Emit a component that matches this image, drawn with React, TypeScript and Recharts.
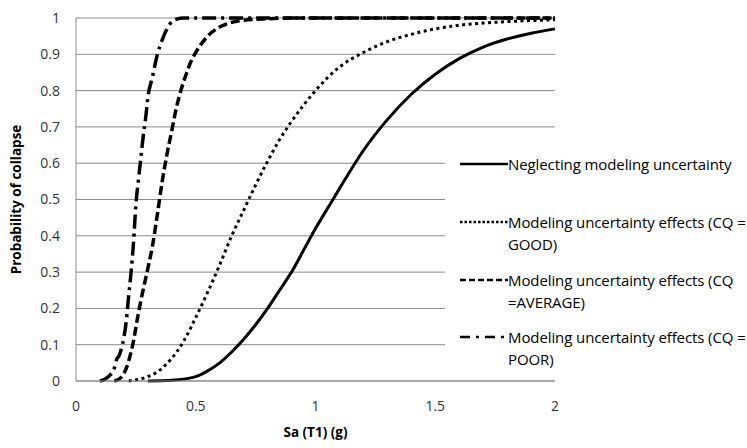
import { LineChart, Line, XAxis, YAxis, CartesianGrid } from "recharts";

// Sa(T1) in g, probability of collapse
const neglectX = [0.3, 0.4, 0.5, 0.55, 0.6, 0.65, 0.7, 0.75, 0.8, 0.85, 0.9, 0.95, 1.0, 1.05, 1.1, 1.2, 1.3, 1.4, 1.5, 1.6, 1.7, 1.8, 1.9, 2.0];
const neglectP = [0, 0.002, 0.012, 0.028, 0.05, 0.08, 0.115, 0.155, 0.2, 0.25, 0.3, 0.36, 0.42, 0.475, 0.53, 0.635, 0.72, 0.79, 0.845, 0.888, 0.92, 0.942, 0.958, 0.97];

const goodX = [0.22, 0.25, 0.3, 0.35, 0.4, 0.45, 0.5, 0.55, 0.6, 0.65, 0.7, 0.75, 0.8, 0.85, 0.9, 0.95, 1.0, 1.1, 1.2, 1.3, 1.4, 1.5, 1.6, 1.7, 1.8, 1.9, 2.0];
const goodP = [0, 0.003, 0.012, 0.03, 0.063, 0.11, 0.175, 0.245, 0.32, 0.4, 0.47, 0.54, 0.605, 0.665, 0.715, 0.76, 0.8, 0.865, 0.905, 0.935, 0.955, 0.97, 0.98, 0.986, 0.99, 0.993, 0.995];

const averageX = [0.16, 0.18, 0.2, 0.22, 0.24, 0.26, 0.28, 0.3, 0.32, 0.34, 0.36, 0.38, 0.4, 0.42, 0.44, 0.46, 0.48, 0.5, 0.55, 0.6, 0.65, 0.7, 0.8, 0.9, 1.0, 1.5, 2.0];
const averageP = [0, 0.005, 0.02, 0.055, 0.11, 0.185, 0.25, 0.31, 0.375, 0.46, 0.55, 0.625, 0.69, 0.755, 0.805, 0.845, 0.88, 0.905, 0.95, 0.975, 0.988, 0.994, 0.998, 1, 1, 1, 1];

const poorX = [0.1, 0.12, 0.14, 0.16, 0.17, 0.18, 0.19, 0.2, 0.21, 0.22, 0.23, 0.24, 0.25, 0.26, 0.27, 0.28, 0.29, 0.3, 0.32, 0.34, 0.36, 0.38, 0.4, 0.42, 0.45, 0.5, 1.0, 1.5, 2.0];
const poorP = [0, 0.005, 0.015, 0.035, 0.06, 0.07, 0.09, 0.12, 0.165, 0.235, 0.3, 0.38, 0.485, 0.55, 0.61, 0.67, 0.72, 0.78, 0.84, 0.9, 0.94, 0.97, 0.99, 0.997, 1, 1, 1, 1, 1];

const xTicks = [0, 0.5, 1, 1.5, 2];
const yTicks = [0, 0.1, 0.2, 0.3, 0.4, 0.5, 0.6, 0.7, 0.8, 0.9, 1];

const toRows = (xs: number[], ps: number[]) => xs.map((x, i) => ({ x, p: ps[i] }));

const series = [
  { name: "neglect", data: toRows(neglectX, neglectP), dash: undefined as string | undefined, width: 3 },
  { name: "good", data: toRows(goodX, goodP), dash: "3 3.5", width: 3 },
  { name: "average", data: toRows(averageX, averageP), dash: "9 4", width: 3.5 },
  { name: "poor", data: toRows(poorX, poorP), dash: "14 5 3 5", width: 3.5 },
];

const legendItems = [
  { lines: ["Neglecting modeling uncertainty"], dash: undefined as string | undefined, top: 24 },
  { lines: ["Modeling uncertainty effects (CQ =", "GOOD)"], dash: "2.5 2", top: 82 },
  { lines: ["Modeling uncertainty effects (CQ", "=AVERAGE)"], dash: "6 3", top: 140 },
  { lines: ["Modeling uncertainty effects (CQ =", "POOR)"], dash: "10 6 3 6", top: 197 },
];

const FONT = "'Open Sans', sans-serif";
const GRID = "#8c8c8c";

function YTitle(props: any) {
  const vb = props.viewBox;
  const x = vb.x + 17;
  const y = vb.y + vb.height / 2;
  return (
    <text x={x} y={y} transform={`rotate(-90, ${x}, ${y})`} textAnchor="middle" dominantBaseline="middle"
      fontFamily={FONT} fontSize={13.5} fontWeight="bold" fill="#000">
      Probability of collapse
    </text>
  );
}

function XTitle(props: any) {
  const vb = props.viewBox;
  return (
    <text x={vb.x + vb.width / 2} y={vb.y + 52} textAnchor="middle" dominantBaseline="middle"
      fontFamily={FONT} fontSize={13.5} fontWeight="bold" fill="#000">
      Sa (T1) (g)
    </text>
  );
}

export default function App() {
  return (
    <div style={{ position: "fixed", left: 0, top: 0, width: 747, height: 448, background: "#fff" }}>
      <LineChart width={747} height={448} margin={{ top: 18, right: 192, bottom: 0, left: 0 }}>
        <CartesianGrid vertical={false} stroke={GRID} />
        <XAxis
          type="number"
          dataKey="x"
          domain={[0, 2]}
          ticks={xTicks}
          height={67}
          tickLine={false}
          tickSize={0}
          tickMargin={20}
          axisLine={{ stroke: GRID }}
          tick={{ fill: "#333", fontSize: 14, fontFamily: FONT }}
          label={<XTitle />}
        />
        <YAxis
          type="number"
          domain={[0, 1]}
          ticks={yTicks}
          width={76}
          tickLine={false}
          tickSize={0}
          tickMargin={16}
          axisLine={{ stroke: GRID }}
          tick={{ fill: "#333", fontSize: 14, fontFamily: FONT }}
          label={<YTitle />}
        />
        {series.map((s) => (
          <Line
            key={s.name}
            data={s.data}
            dataKey="p"
            type="monotone"
            stroke="#000"
            strokeWidth={s.width}
            strokeDasharray={s.dash}
            dot={false}
            activeDot={false}
            isAnimationActive={false}
          />
        ))}
      </LineChart>

      {/* legend box sits over the right part of the plot, covering the grid */}
      <div style={{ position: "absolute", left: 445, top: 140, width: 302, height: 236, background: "#fff", fontFamily: FONT, fontSize: 15, letterSpacing: -0.1, color: "#000" }}>
        {legendItems.map((it, i) => (
          <div key={i} style={{ position: "absolute", left: 15, top: it.top - 11, display: "flex", alignItems: "flex-start" }}>
            <svg width={48} height={22} style={{ flex: "none" }}>
              <line x1={0} y1={11} x2={48} y2={11} stroke="#000" strokeWidth={2.5} strokeDasharray={it.dash} />
            </svg>
            <div style={{ lineHeight: "22px", whiteSpace: "nowrap" }}>
              {it.lines.map((l, j) => (
                <div key={j}>{l}</div>
              ))}
            </div>
          </div>
        ))}
      </div>
    </div>
  );
}
